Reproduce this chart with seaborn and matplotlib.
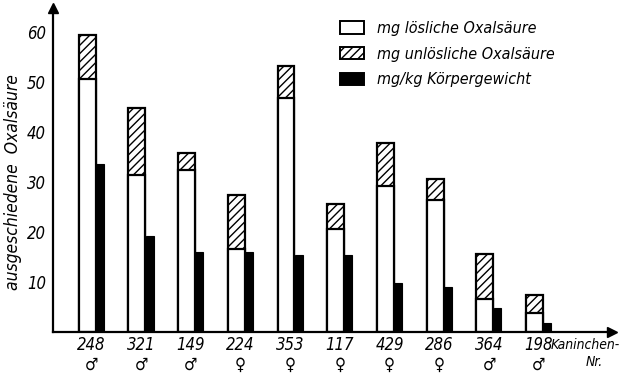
import matplotlib
matplotlib.use("Agg")
import matplotlib.pyplot as plt
from matplotlib.patches import Patch
import numpy as np
import pandas as pd
import seaborn as sns

# Kaninchen-Nummern, Geschlecht und ausgeschiedene Oxalsäure
kaninchen = ["248", "321", "149", "224", "353", "117", "429", "286", "364", "198"]
geschlecht = ["♂", "♂", "♂", "♀", "♀", "♀", "♀", "♀", "♂", "♂"]
loeslich = [50.6, 31.4, 32.4, 16.6, 46.8, 20.6, 29.1, 26.3, 6.6, 3.8]
unloeslich = [8.7, 13.4, 3.4, 10.8, 6.4, 5.0, 8.6, 4.3, 9.0, 3.6]
pro_kg = [33.5, 19.2, 16.0, 16.0, 15.4, 15.4, 9.8, 9.0, 4.8, 1.8]

sns.set_theme(style="white")
plt.rcParams["font.family"] = ["DejaVu Sans"]
plt.rcParams["font.style"] = "italic"
plt.rcParams["font.stretch"] = "condensed"
plt.rcParams["text.color"] = "black"
plt.rcParams["xtick.color"] = "black"
plt.rcParams["ytick.color"] = "black"
plt.rcParams["axes.labelcolor"] = "black"
plt.rcParams["hatch.linewidth"] = 1.0

pos = np.arange(len(kaninchen))
gesamt = [a + b for a, b in zip(loeslich, unloeslich)]
df = pd.DataFrame({
    "x_stapel": pos - 0.085,
    "x_kg": pos + 0.17,
    "gesamt": gesamt,
    "loeslich": loeslich,
    "pro_kg": pro_kg,
})

fig = plt.figure(figsize=(6.23, 3.76), dpi=100)
ax = fig.add_axes([0.085, 0.117, 0.897, 0.862])

w_stapel = 0.34
w_kg = 0.16
# hatched total (soluble + insoluble), then the soluble part in white on top
sns.barplot(data=df, x="x_stapel", y="gesamt", native_scale=True, width=w_stapel,
            color="white", edgecolor="black", linewidth=1.6, hatch="////",
            saturation=1, errorbar=None, ax=ax)
sns.barplot(data=df, x="x_stapel", y="loeslich", native_scale=True, width=w_stapel,
            color="white", edgecolor="black", linewidth=1.6,
            saturation=1, errorbar=None, ax=ax)
sns.barplot(data=df, x="x_kg", y="pro_kg", native_scale=True, width=w_kg,
            color="black", edgecolor="black", linewidth=0.8,
            saturation=1, errorbar=None, ax=ax)

ax.set_xlim(-0.775, 10.47)
ax.set_ylim(0, 64.8)

ax.set_xticks(pos)
ax.set_xticklabels([f"{k}\n{g}" for k, g in zip(kaninchen, geschlecht)],
                   fontsize=12, linespacing=1.1)
ax.set_yticks([10, 20, 30, 40, 50, 60])
ax.set_yticklabels(["10", "20", "30", "40", "50", "60"], fontsize=12)
ax.tick_params(axis="x", length=0, pad=3)
ax.tick_params(axis="y", length=3, width=1, direction="out", pad=2)
ax.set_xlabel("")
ax.set_ylabel("ausgeschiedene  Oxalsäure", fontsize=12.5)
ax.yaxis.set_label_coords(-0.055, 0.463)

for s in ["top", "right"]:
    ax.spines[s].set_visible(False)
for s in ["left", "bottom"]:
    ax.spines[s].set_color("black")
    ax.spines[s].set_linewidth(1.6)

# arrow heads on the axes
ax.plot(1, 0, marker=">", color="black", markersize=7,
        transform=ax.transAxes, clip_on=False)
ax.plot(0, 1, marker="^", color="black", markersize=7,
        transform=ax.transAxes, clip_on=False)

ax.text(0.891, -0.018, "Kaninchen-", transform=ax.transAxes, fontsize=10,
        ha="left", va="top")
ax.text(0.985, -0.072, "Nr.", transform=ax.transAxes, fontsize=10,
        ha="right", va="top")

handles = [
    Patch(facecolor="white", edgecolor="black", linewidth=1.4),
    Patch(facecolor="white", edgecolor="black", linewidth=1.4, hatch="////"),
    Patch(facecolor="black", edgecolor="black", linewidth=1.4),
]
labels = ["mg lösliche Oxalsäure", "mg unlösliche Oxalsäure", "mg/kg Körpergewicht"]
ax.legend(handles, labels, loc="upper left", bbox_to_anchor=(0.493, 0.995),
          frameon=False, fontsize=11.5, handlelength=1.55, handleheight=0.85,
          handletextpad=0.8, labelspacing=0.68, borderaxespad=0.3)

fig.savefig("out.png", dpi=100)
